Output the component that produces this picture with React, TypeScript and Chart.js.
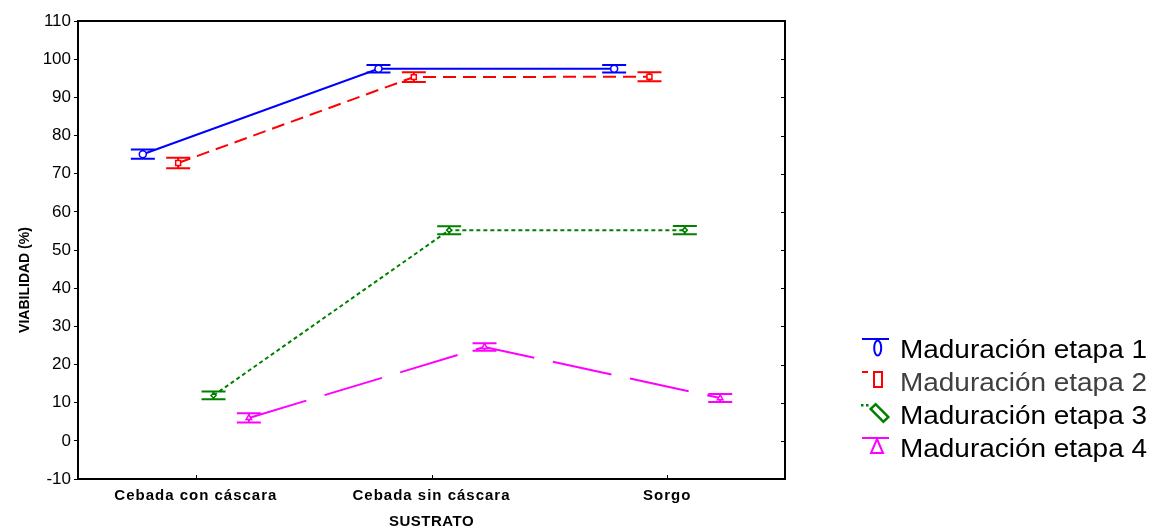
import React, { useEffect, useRef } from "react";
import { Chart, registerables } from "chart.js";

Chart.register(...registerables);

const categories = ["Cebada con cáscara", "Cebada sin cáscara", "Sorgo"];
const seriesNames = [
  "Maduración etapa 1",
  "Maduración etapa 2",
  "Maduración etapa 3",
  "Maduración etapa 4",
];
const etapa1 = [75.1, 97.5, 97.5];
const etapa2 = [72.8, 95.3, 95.4];
const etapa3 = [11.9, 55.2, 55.2];
const etapa4 = [6.0, 24.6, 11.2];
const err1 = [1.2, 1.0, 1.0];
const err2 = [1.4, 1.3, 1.2];
const err3 = [1.0, 1.05, 1.1];
const err4 = [1.2, 1.0, 1.05];
const yTickValues = [-10, 0, 10, 20, 30, 40, 50, 60, 70, 80, 90, 100, 110];
const yTitle = "VIABILIDAD (%)";
const xTitle = "SUSTRATO";

const colors = ["#0000ff", "#ff0000", "#008000", "#ff00ff"];
const offsets = [-0.225, -0.075, 0.075, 0.225];
const allValues = [etapa1, etapa2, etapa3, etapa4];
const allErrors = [err1, err2, err3, err4];
const dashes = [[], [13, 7], [4, 3], [60, 19]];
const pointStyles = ["circle", "rect", "rectRot", "triangle"];
const pointRadii = [3.5, 3.5, 2.5, 3.2];

const FONT = "'Liberation Sans', Arial, sans-serif";

const errorBarPlugin = {
  id: "errorBars",
  beforeDatasetsDraw(chart: any) {
    const ctx = chart.ctx;
    const xs = chart.scales.x;
    const ys = chart.scales.y;
    ctx.save();
    allValues.forEach((vals, k) => {
      ctx.strokeStyle = colors[k];
      ctx.lineWidth = 2;
      ctx.setLineDash([]);
      vals.forEach((v, i) => {
        const px = xs.getPixelForValue(i + offsets[k]);
        const yHi = ys.getPixelForValue(v + allErrors[k][i]);
        const yLo = ys.getPixelForValue(v - allErrors[k][i]);
        ctx.beginPath();
        ctx.moveTo(px - 12, yHi);
        ctx.lineTo(px + 12, yHi);
        ctx.moveTo(px - 12, yLo);
        ctx.lineTo(px + 12, yLo);
        ctx.moveTo(px, yHi);
        ctx.lineTo(px, yLo);
        ctx.stroke();
      });
    });
    ctx.restore();
  },
};

const framePlugin = {
  id: "frame",
  afterDraw(chart: any) {
    const ctx = chart.ctx;
    const { left, right, top, bottom } = chart.chartArea;
    const xs = chart.scales.x;
    const ys = chart.scales.y;
    ctx.save();
    ctx.setLineDash([]);
    ctx.strokeStyle = "#000";
    ctx.lineWidth = 2;
    ctx.strokeRect(left, top, right - left, bottom - top);
    ctx.lineWidth = 1;
    ctx.beginPath();
    categories.forEach((_, i) => {
      const px = Math.round(xs.getPixelForValue(i)) + 0.5;
      ctx.moveTo(px, bottom);
      ctx.lineTo(px, bottom - 4);
    });
    yTickValues.forEach((v) => {
      const py = Math.round(ys.getPixelForValue(v)) + 0.5;
      ctx.moveTo(right, py);
      ctx.lineTo(right - 4, py);
    });
    ctx.stroke();

    // x category labels
    ctx.fillStyle = "#000";
    ctx.font = `bold 15px ${FONT}`;
    (ctx as any).letterSpacing = "1px";
    ctx.textAlign = "center";
    ctx.textBaseline = "middle";
    categories.forEach((c, i) => {
      ctx.fillText(c, xs.getPixelForValue(i), 496);
    });
    // x title
    ctx.font = `bold 15px ${FONT}`;
    (ctx as any).letterSpacing = "0.5px";
    ctx.fillText(xTitle, (left + right) / 2, 522);
    // y title
    (ctx as any).letterSpacing = "0px";
    ctx.save();
    ctx.translate(25, 280);
    ctx.rotate(-Math.PI / 2);
    ctx.font = `bold 14px ${FONT}`;
    ctx.fillText(yTitle, 0, 0);
    ctx.restore();

    // legend
    const baselines = [358, 391, 424, 457];
    ctx.font = `26px ${FONT}`;
    ctx.textAlign = "left";
    ctx.textBaseline = "alphabetic";
    const w = ctx.measureText(seriesNames[0]).width;
    const sx = 247 / w;
    seriesNames.forEach((name, k) => {
      const b = baselines[k];
      ctx.save();
      ctx.translate(900, b);
      ctx.scale(sx, 1);
      ctx.fillStyle = k === 1 ? "#404040" : "#000";
      ctx.fillText(name, 0, 0);
      ctx.restore();
      ctx.strokeStyle = colors[k];
      ctx.fillStyle = "#fff";
      ctx.lineWidth = 2;
      const top = b - 19;
      if (k === 0) {
        ctx.beginPath();
        ctx.moveTo(862, top);
        ctx.lineTo(889, top);
        ctx.stroke();
        ctx.beginPath();
        ctx.ellipse(877.7, top + 9, 3.5, 7.5, 0, 0, Math.PI * 2);
        ctx.fill();
        ctx.stroke();
      } else if (k === 1) {
        ctx.beginPath();
        ctx.moveTo(862, top);
        ctx.lineTo(868, top);
        ctx.stroke();
        ctx.beginPath();
        ctx.rect(874, top, 8, 15);
        ctx.fill();
        ctx.stroke();
      } else if (k === 2) {
        ctx.fillStyle = colors[k];
        ctx.fillRect(861, top - 1, 2.5, 2.5);
        ctx.fillRect(866, top - 1, 2.5, 2.5);
        ctx.save();
        ctx.translate(879.5, top + 8);
        ctx.rotate(Math.PI / 4);
        ctx.fillStyle = "#fff";
        ctx.lineWidth = 2.5;
        ctx.beginPath();
        ctx.rect(-9, -3.5, 18, 7);
        ctx.fill();
        ctx.stroke();
        ctx.restore();
      } else {
        ctx.beginPath();
        ctx.moveTo(862, top);
        ctx.lineTo(889, top);
        ctx.stroke();
        ctx.beginPath();
        ctx.moveTo(877, top + 1);
        ctx.lineTo(883, top + 15);
        ctx.lineTo(871, top + 15);
        ctx.closePath();
        ctx.fill();
        ctx.stroke();
      }
    });
    ctx.restore();
  },
};

export default function App() {
  const ref = useRef<HTMLCanvasElement>(null);
  useEffect(() => {
    if (!ref.current) return;
    const datasets = allValues.map((vals, k) => ({
      label: seriesNames[k],
      data: vals.map((v, i) => ({ x: i + offsets[k], y: v })),
      borderColor: colors[k],
      borderWidth: 2,
      borderDash: dashes[k],
      pointStyle: pointStyles[k],
      pointRadius: pointRadii[k],
      pointBackgroundColor: "#fff",
      pointBorderColor: colors[k],
      pointBorderWidth: 1.5,
      fill: false,
      tension: 0,
    }));
    const chart = new Chart(ref.current, {
      type: "line",
      data: { datasets },
      options: {
        animation: false,
        responsive: false,
        devicePixelRatio: 1,
        layout: { padding: { left: 0, top: 21, right: 1152 - 785, bottom: 0 } },
        plugins: { legend: { display: false }, tooltip: { enabled: false } },
        scales: {
          x: {
            type: "linear",
            min: -0.5,
            max: 2.5,
            grid: { display: false },
            border: { display: false },
            ticks: { display: false },
            afterFit: (s: any) => {
              s.height = 52;
            },
          },
          y: {
            type: "linear",
            min: -10,
            max: 110,
            afterBuildTicks: (s: any) => {
              s.ticks = yTickValues.map((v) => ({ value: v }));
            },
            ticks: {
              color: "#000",
              padding: 3,
              autoSkip: false,
              font: { family: FONT, size: 17 },
            },
            grid: {
              drawOnChartArea: false,
              drawTicks: true,
              tickLength: 4,
              color: "#000",
            },
            border: { display: false },
            afterFit: (s: any) => {
              s.width = 78;
            },
          },
        },
      },
      plugins: [errorBarPlugin, framePlugin],
    } as any);
    return () => chart.destroy();
  }, []);
  return (
    <div style={{ position: "absolute", left: 0, top: 0, width: 1152, height: 531, background: "#fff" }}>
      <canvas ref={ref} width={1152} height={531} />
    </div>
  );
}
